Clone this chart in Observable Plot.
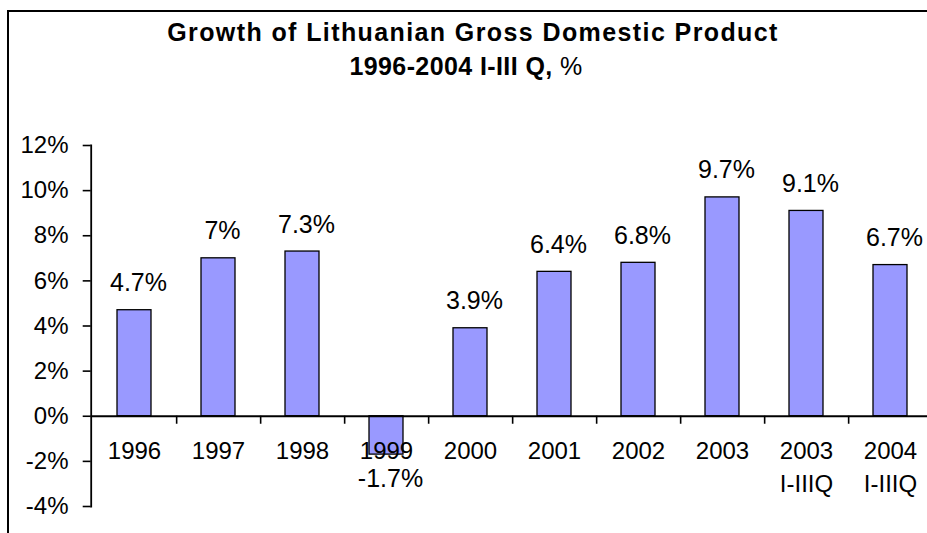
<!DOCTYPE html>
<html>
<head>
<meta charset="utf-8">
<script src="https://cdn.jsdelivr.net/npm/d3@7"></script>
<script src="https://cdn.jsdelivr.net/npm/@observablehq/plot@0.6"></script>
<style>
  html, body { margin: 0; padding: 0; background: white; }
  #wrap { position: relative; width: 927px; height: 533px; overflow: hidden; background: white; font-family: 'Liberation Sans', Arial, sans-serif; color: black; }
  #header { position: relative; width: 927px; height: 100px; }
  .t { position: absolute; width: 800px; text-align: center; line-height: 1; font-weight: bold; white-space: nowrap; }
  #title { left: 73px; top: 20px; font-size: 25px; letter-spacing: 1.4px; }
  #subtitle { left: 66px; top: 54px; font-size: 25px; letter-spacing: 0.4px; }
  #subtitle .n { font-weight: normal; }
  #border { position: absolute; left: 7px; top: 10px; width: 1200px; height: 800px; border-top: 2px solid black; border-left: 2px solid black; pointer-events: none; }
  #chart svg { display: block; }
</style>
</head>
<body>
<div id="wrap">
  <div id="header">
    <div class="t" id="title">Growth of Lithuanian Gross Domestic Product</div>
    <div class="t" id="subtitle">1996-2004 I-III Q, <span class="n">%</span></div>
  </div>
  <div id="chart"></div>
  <div id="border"></div>
</div>
<script>
const categories = ["1996", "1997", "1998", "1999", "2000", "2001", "2002", "2003", "2003\nI-IIIQ", "2004\nI-IIIQ"];
const values = [4.7, 7, 7.3, -1.7, 3.9, 6.4, 6.8, 9.7, 9.1, 6.7];
const yTicks = [-4, -2, 0, 2, 4, 6, 8, 10, 12];

const data = categories.map((c, i) => ({cat: c, value: values[i]}));

const W = 927, H = 433, mTop = 45, mBottom = 27, mLeft = 90.7;
const xRange = [90.7, 933.7];
const step = (xRange[1] - xRange[0]) / categories.length;
const pxPerUnit = (H - mTop - mBottom) / (12 - (-4));
const tickLen = 8 / pxPerUnit;

const chart = Plot.plot({
  width: W,
  height: H,
  marginTop: mTop,
  marginBottom: mBottom,
  marginLeft: mLeft,
  marginRight: 0,
  style: {fontFamily: "'Liberation Sans', Arial, sans-serif", fontSize: "24px", color: "black", background: "white", overflow: "visible"},
  x: {domain: categories, range: xRange, paddingInner: 0.597, paddingOuter: 0.2985, axis: null},
  y: {domain: [-4, 12], axis: null},
  marks: [
    Plot.barY(data, {x: "cat", y: "value", fill: "#9999FF", stroke: "black", strokeWidth: 1.3}),
    Plot.frame({anchor: "left", stroke: "black", strokeWidth: 1.8}),
    Plot.ruleY([0], {stroke: "black", strokeWidth: 1.8}),
    Plot.axisY({ticks: yTicks, tickSize: 8, tickPadding: 14.7, tickFormat: d => d + "%", fontSize: 24, strokeWidth: 1.6, label: null}),
    Plot.ruleX(categories, {x: d => d, y1: 0, y2: -tickLen, dx: step / 2, stroke: "black", strokeWidth: 1.6}),
    Plot.text(categories, {x: d => d, y: 0, dy: 19, lineAnchor: "top", lineHeight: 1.39, fontSize: 24, fill: "black"}),
    Plot.text(data.filter(d => d.value >= 0), {x: "cat", y: "value", text: d => d.value + "%", dy: -27, dx: 4, fontSize: 25, fill: "black"}),
    Plot.text(data.filter(d => d.value < 0), {x: "cat", y: "value", text: d => d.value + "%", dy: 24, dx: 4, fontSize: 25, fill: "black"})
  ]
});
document.getElementById("chart").appendChild(chart);
</script>
</body>
</html>
